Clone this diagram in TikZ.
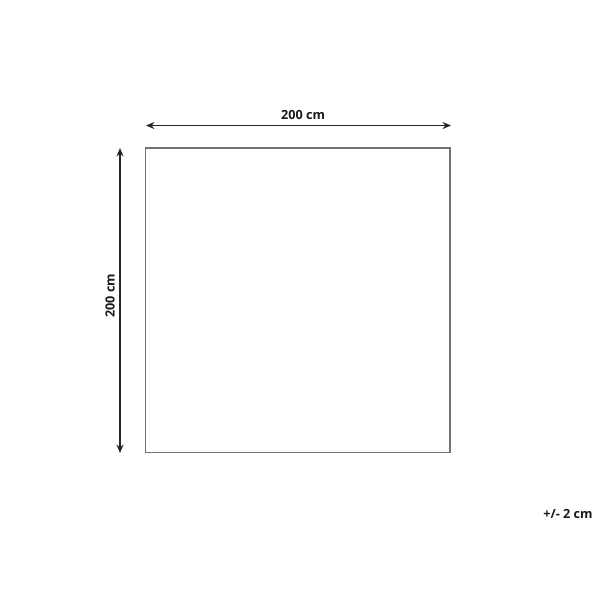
\documentclass[tikz,border=0pt]{standalone}
\usepackage{fontspec}
\setmainfont{Open Sans}
\usetikzlibrary{arrows.meta}

\tikzset{
  dimline/.style={line width=1.1pt, black!85, {Stealth[length=6pt,width=5pt]}-{Stealth[length=6pt,width=5pt]}},
  dimlabel/.style={font=\bfseries\fontsize{9}{10}\selectfont, text=black!90, inner sep=1pt}
}

\begin{document}
\begin{tikzpicture}[x=0.025cm,y=-0.025cm]
        \useasboundingbox (0,0) rectangle (600,600);

        % rug outline
        \coordinate (tl) at (145.5,148);
        \coordinate (tr) at (450,148);
        \coordinate (bl) at (145.5,452.5);
        \coordinate (br) at (450,452.5);
        \draw[black!55, line width=0.9pt] (tl) rectangle (br);

        % width
        \coordinate (wl) at (146,125.5);
        \coordinate (wr) at (451,125.5);
        \draw[dimline] (wl) -- (wr);
        \node[dimlabel] (wlab) at (303,115) {200 cm};

        % height
        \coordinate (ht) at (120,148);
        \coordinate (hb) at (120,453);
        \draw[dimline] (ht) -- (hb);
        \node[dimlabel, rotate=90] (hlab) at (110,296) {200 cm};

        \node[dimlabel] (tol) at (568,514) {+/- 2 cm};

    \end{tikzpicture}
\end{document}
